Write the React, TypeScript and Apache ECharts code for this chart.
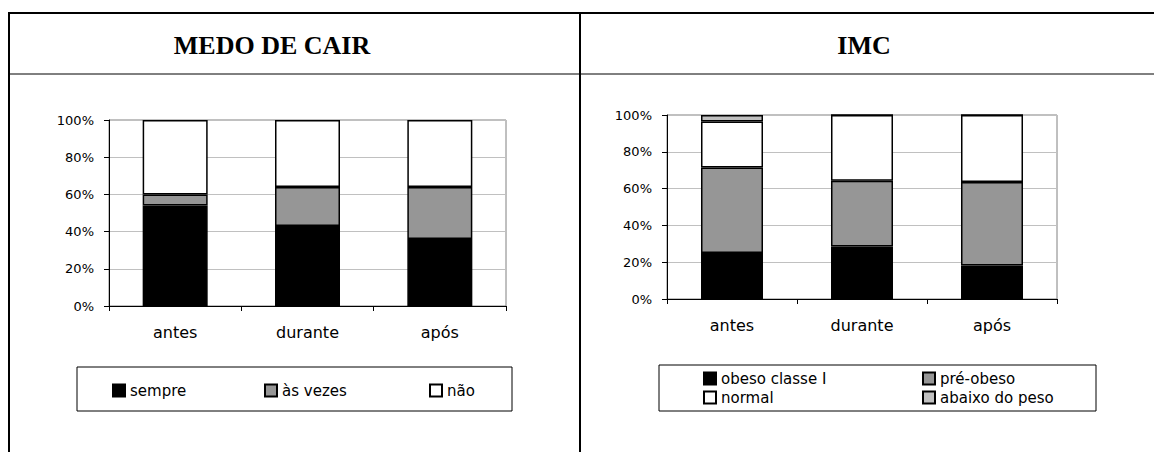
import React, { useEffect, useRef } from "react";
import * as echarts from "echarts";

const categories = ["antes", "durante", "após"];

// MEDO DE CAIR (percent)
const medoSempre = [54, 43, 36];
const medoAsVezes = [6, 21, 28];
const medoNao = [40, 36, 36];

// IMC (percent)
const imcObeso = [25, 28.6, 18.2];
const imcPreObeso = [46.4, 35.7, 45.4];
const imcNormal = [25, 35.7, 36.4];
const imcAbaixo = [3.6, 0, 0];

const titles = ["MEDO DE CAIR", "IMC"];
const medoNames = ["sempre", "às vezes", "não"];
const imcNames = ["obeso classe I", "pré-obeso", "normal", "abaixo do peso"];

const BLACK = "#000000";
const GRAY = "#969696";
const WHITE = "#ffffff";
const LIGHT = "#c0c0c0";

const sans = "DejaVu Sans";

function yAxis(gridIndex: number) {
  return {
    type: "value",
    gridIndex,
    min: 0,
    max: 100,
    interval: 20,
    axisLine: { show: true, lineStyle: { color: "#000", width: 1 } },
    axisTick: { show: true, length: 5, lineStyle: { color: "#000" } },
    axisLabel: {
      formatter: "{value}%",
      color: "#000",
      fontFamily: sans,
      fontSize: 13,
      margin: 15,
    },
    splitLine: { show: true, lineStyle: { color: "#c0c0c0", width: 1 } },
  };
}

function xAxis(gridIndex: number) {
  return {
    type: "category",
    gridIndex,
    data: categories,
    axisLine: { show: true, lineStyle: { color: "#000", width: 1 } },
    axisTick: { show: true, length: 5, alignWithLabel: false, lineStyle: { color: "#000" } },
    axisLabel: { color: "#000", fontFamily: sans, fontSize: 16, margin: 18 },
  };
}

function bar(name: string, data: number[], color: string, idx: number, stack: string, width: number) {
  return {
    type: "bar",
    name,
    data,
    stack,
    xAxisIndex: idx,
    yAxisIndex: idx,
    barWidth: width,
    itemStyle: { color, borderColor: "#000", borderWidth: 1.5 },
  };
}

function legendItem(name: string, left: number, top: number) {
  return {
    data: [name],
    left,
    top,
    padding: 0,
    itemWidth: 12,
    itemHeight: 12,
    itemGap: 0,
    icon: "rect",
    selectedMode: false,
    textStyle: { color: "#000", fontFamily: sans, fontSize: 15, padding: [0, 0, 0, 0] },
  };
}

export default function App() {
  const ref = useRef<HTMLDivElement>(null);
  useEffect(() => {
    if (!ref.current) return;
    const chart = echarts.init(ref.current, undefined, { renderer: "svg" });
    const lineStyle = { stroke: "#000", lineWidth: 2 };
    chart.setOption({
      animation: false,
      backgroundColor: "#fff",
      grid: [
        { left: 109, top: 120, width: 397, height: 186, show: true, borderColor: "#808080", borderWidth: 1, backgroundColor: "transparent" },
        { left: 667, top: 115, width: 390, height: 184, show: true, borderColor: "#808080", borderWidth: 1, backgroundColor: "transparent" },
      ],
      xAxis: [xAxis(0), xAxis(1)],
      yAxis: [yAxis(0), yAxis(1)],
      legend: [
        legendItem(medoNames[0], 112, 383),
        legendItem(medoNames[1], 264, 383),
        legendItem(medoNames[2], 429, 383),
        legendItem(imcNames[0], 703, 371),
        legendItem(imcNames[1], 922, 371),
        legendItem(imcNames[2], 703, 390),
        legendItem(imcNames[3], 922, 390),
      ],
      series: [
        bar(medoNames[0], medoSempre, BLACK, 0, "medo", 65),
        bar(medoNames[1], medoAsVezes, GRAY, 0, "medo", 65),
        bar(medoNames[2], medoNao, WHITE, 0, "medo", 65),
        bar(imcNames[0], imcObeso, BLACK, 1, "imc", 62),
        bar(imcNames[1], imcPreObeso, GRAY, 1, "imc", 62),
        bar(imcNames[2], imcNormal, WHITE, 1, "imc", 62),
        bar(imcNames[3], imcAbaixo, LIGHT, 1, "imc", 62),
      ],
      graphic: [
        // table borders
        { type: "line", shape: { x1: 8, y1: 13, x2: 1154, y2: 13 }, style: lineStyle, silent: true },
        { type: "line", shape: { x1: 9, y1: 13, x2: 9, y2: 452 }, style: lineStyle, silent: true },
        { type: "line", shape: { x1: 580, y1: 13, x2: 580, y2: 452 }, style: lineStyle, silent: true },
        { type: "line", shape: { x1: 8, y1: 74, x2: 1154, y2: 74 }, style: { stroke: "#000", lineWidth: 1 }, silent: true },
        // titles
        {
          type: "text",
          x: 272,
          y: 45,
          style: {
            text: titles[0],
            fill: "#000",
            font: "bold 26px 'Liberation Serif'",
            align: "center",
            verticalAlign: "middle",
          },
        },
        {
          type: "text",
          x: 864,
          y: 45,
          style: {
            text: titles[1],
            fill: "#000",
            font: "bold 26px 'Liberation Serif'",
            align: "center",
            verticalAlign: "middle",
          },
        },
        // legend boxes
        { type: "rect", shape: { x: 77, y: 367, width: 435, height: 44 }, style: { fill: "none", stroke: "#000", lineWidth: 1 }, z: -1 },
        { type: "rect", shape: { x: 659, y: 365, width: 437, height: 46 }, style: { fill: "none", stroke: "#000", lineWidth: 1 }, z: -1 },
      ],
    });
    return () => chart.dispose();
  }, []);
  return (
    <div
      ref={ref}
      style={{ position: "fixed", left: 0, top: 0, width: 1154, height: 452 }}
    />
  );
}
